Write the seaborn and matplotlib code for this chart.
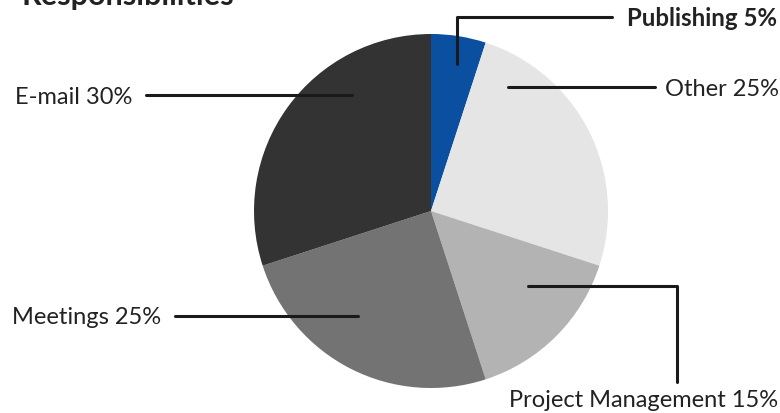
import matplotlib
matplotlib.use("Agg")
import matplotlib.pyplot as plt
import seaborn as sns

# data
labels = ["Publishing", "Other", "Project Management", "Meetings", "E-mail"]
shares = [5, 25, 15, 25, 30]
colors = ["#0a4fa0", "#e5e5e5", "#b3b3b3", "#737373", "#333333"]

W, H = 780, 414
sns.set_theme(style="white")
plt.rcParams["font.family"] = ["Lato", "DejaVu Sans"]

fig = plt.figure(figsize=(W / 100, H / 100), dpi=100)
ax = fig.add_axes([0, 0, 1, 1])


def py(y):
    # pixel row (top origin) -> data y
    return H - y


ax.pie(shares, colors=colors, startangle=90, counterclock=False,
       center=(431, py(212)), radius=177, wedgeprops=dict(linewidth=0))
ax.set_xlim(0, W)
ax.set_ylim(0, H)
ax.set_aspect("auto")
ax.axis("off")

lc = "#1a1a1a"
lw = 2.2
fs = 17
tc = "#222222"

# Publishing
ax.plot([457, 457, 612], [py(65), py(18), py(18)], color=lc, lw=lw)
ax.text(627, py(18), f"{labels[0]} {shares[0]}%", fontsize=17.3, fontweight="bold",
        color=tc, va="center", ha="left")
# Other
ax.plot([508, 655], [py(88), py(88)], color=lc, lw=lw)
ax.text(665, py(89), f"{labels[1]} {shares[1]}%", fontsize=fs, color=tc, va="center", ha="left")
# Project Management
ax.plot([528, 677, 677], [py(287), py(287), py(383)], color=lc, lw=lw)
ax.text(644, py(401), f"{labels[2]} {shares[2]}%", fontsize=fs, color=tc, va="center", ha="center")
# Meetings
ax.plot([175, 358], [py(317), py(317)], color=lc, lw=lw)
ax.text(161, py(318), f"{labels[3]} {shares[3]}%", fontsize=fs, color=tc, va="center", ha="right")
# E-mail
ax.plot([146, 352], [py(96), py(96)], color=lc, lw=lw)
ax.text(132, py(97), f"{labels[4]} {shares[4]}%", fontsize=fs, color=tc, va="center", ha="right")

# title, mostly cut off at the top edge
ax.text(22, py(5), "Responsibilities", fontsize=22, fontweight="bold", color=tc,
        va="baseline", ha="left", clip_on=False)

fig.savefig("out.png", dpi=100)
